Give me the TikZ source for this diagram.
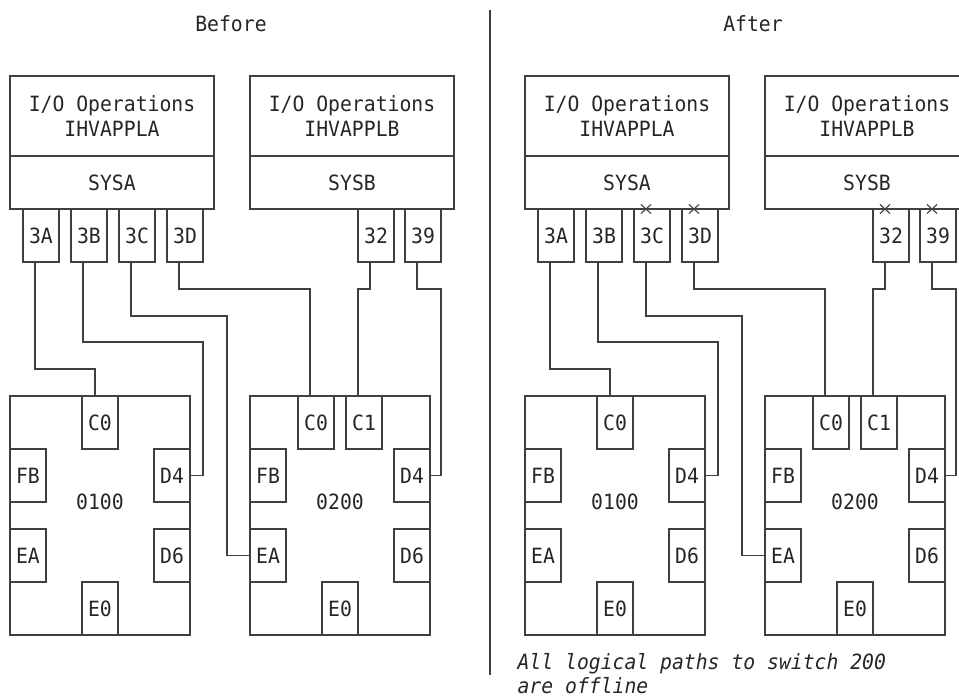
\documentclass[tikz,border=0pt]{standalone}
\usepackage{fontspec}
\setmonofont[FakeStretch=0.94]{DejaVu Sans Mono}
\usetikzlibrary{positioning, shapes.misc}

\begin{document}
\begin{tikzpicture}[
  x=1pt, y=-1pt,
  line width=1.2pt, color=black!75,
  every node/.style={font=\fontsize{21}{25.5}\selectfont\ttfamily, text=black!85},
  box/.style={rectangle, draw, inner sep=0pt, outer sep=0pt},
  appbox/.style={box, minimum width=204pt, minimum height=80pt, align=center},
  sysbox/.style={box, minimum width=204pt, minimum height=53pt},
  port/.style={box, minimum width=36pt, minimum height=53pt},
  swbox/.style={box, minimum width=180pt, minimum height=239pt},
  xmark/.style={cross out, draw, minimum width=9pt, minimum height=8pt, inner sep=0pt, line width=1.1pt},
  note/.style={font=\fontsize{21}{24}\selectfont\ttfamily\itshape, align=left, inner sep=0pt}
]
\useasboundingbox (0,0) rectangle (959,698);
\clip (0,0) rectangle (959,698);

% ── Titles and divider ───────────────────────────────────────
\node (before) at (231,23.5) {Before};
\node (after)  at (753,23.5) {After};
\draw (490,10) -- (490,675);

% ── One panel per state (b = before, a = after) ──────────────
\foreach \p/\dx in {b/0, a/515} {
\begin{scope}[xshift=\dx pt]
% systems
\node[appbox, anchor=north west] (\p-appA) at (10,76) {I/O Operations\\IHVAPPLA};
\node[sysbox, below=0pt of \p-appA] (\p-sysA) {SYSA};
\node[appbox, right=36pt of \p-appA] (\p-appB) {I/O Operations\\IHVAPPLB};
\node[sysbox, below=0pt of \p-appB] (\p-sysB) {SYSB};

% channel ports
\node[port, anchor=north west] (\p-3A) at ([xshift=13pt]\p-sysA.south west) {3A};
\node[port, right=12pt of \p-3A] (\p-3B) {3B};
\node[port, right=12pt of \p-3B] (\p-3C) {3C};
\node[port, right=12pt of \p-3C] (\p-3D) {3D};
\node[port, anchor=north west] (\p-32) at ([xshift=108pt]\p-sysB.south west) {32};
\node[port, right=11pt of \p-32] (\p-39) {39};

% switch 0100
\node[swbox, anchor=north west] (\p-sw1) at (10,396) {};
\node (\p-id1) at ([yshift=13.5pt]\p-sw1.center) {0100};
\node[port, anchor=north]      (\p-1C0) at (\p-sw1.north) {C0};
\node[port, anchor=north west] (\p-1FB) at ([yshift=-53pt]\p-sw1.north west) {FB};
\node[port, anchor=north east] (\p-1D4) at ([yshift=-53pt]\p-sw1.north east) {D4};
\node[port, anchor=south west] (\p-1EA) at ([yshift=53pt]\p-sw1.south west) {EA};
\node[port, anchor=south east] (\p-1D6) at ([yshift=53pt]\p-sw1.south east) {D6};
\node[port, anchor=south]      (\p-1E0) at (\p-sw1.south) {E0};

% switch 0200
\node[swbox, right=60pt of \p-sw1] (\p-sw2) {};
\node (\p-id2) at ([yshift=13.5pt]\p-sw2.center) {0200};
\node[port, anchor=north]      (\p-2C0) at ([xshift=-24pt]\p-sw2.north) {C0};
\node[port, anchor=north]      (\p-2C1) at ([xshift=24pt]\p-sw2.north) {C1};
\node[port, anchor=north west] (\p-2FB) at ([yshift=-53pt]\p-sw2.north west) {FB};
\node[port, anchor=north east] (\p-2D4) at ([yshift=-53pt]\p-sw2.north east) {D4};
\node[port, anchor=south west] (\p-2EA) at ([yshift=53pt]\p-sw2.south west) {EA};
\node[port, anchor=south east] (\p-2D6) at ([yshift=53pt]\p-sw2.south east) {D6};
\node[port, anchor=south]      (\p-2E0) at (\p-sw2.south) {E0};

% paths
\draw ([xshift=-6pt]\p-3A.south) -- ++(0,107) -| ([xshift=-5pt]\p-1C0.north);
\draw ([xshift=-6pt]\p-3B.south) -- ++(0,80) -- ++(120,0) |- (\p-1D4.east);
\draw ([xshift=-6pt]\p-3C.south) -- ++(0,54) -- ++(96,0) |- (\p-2EA.west);
\draw ([xshift=-6pt]\p-3D.south) -- ++(0,27) -| ([xshift=-6pt]\p-2C0.north);
\draw ([xshift=-6pt]\p-32.south) -- ++(0,27) -| ([xshift=-6pt]\p-2C1.north);
\draw ([xshift=-6pt]\p-39.south) -- ++(0,27) -- ++(24,0) |- (\p-2D4.east);
\end{scope}
}

% ── Offline paths ────────────────────────────────────────────
\foreach \q in {3C,3D,32,39}
  \node[xmark] (x\q) at ([xshift=-6pt]a-\q.north) {};

\node[note, anchor=north west] (offline) at (517,653) {All logical paths to switch 200\\are offline};
\end{tikzpicture}
\end{document}
